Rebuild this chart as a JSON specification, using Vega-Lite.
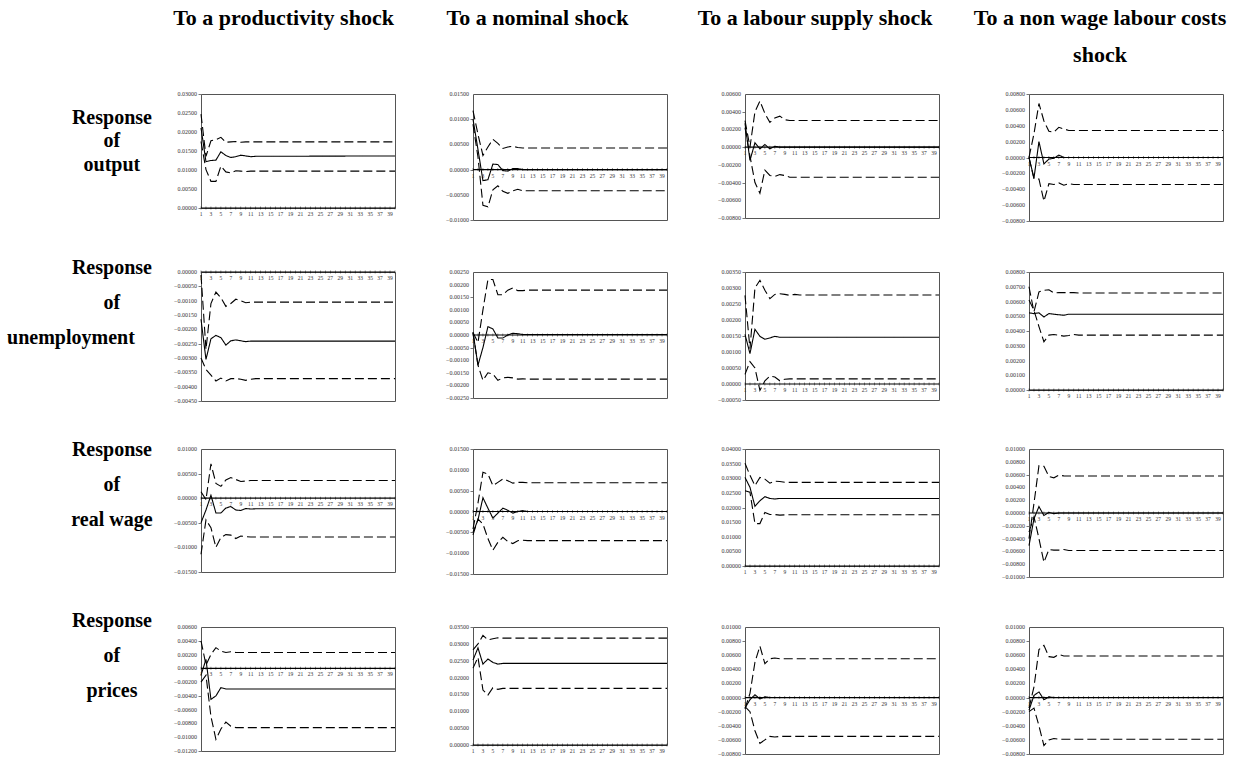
{
"$schema":"https://vega.github.io/schema/vega-lite/v6.json",
"padding":0,
"background":"white",
"config":{"view":{"stroke":null},"axis":{"tickSize":3,"tickColor":"#555","tickWidth":0.8,"domain":false,"grid":false,"labels":false}},
"datasets":{
"ticks":[{"t":1},{"t":2},{"t":3},{"t":4},{"t":5},{"t":6},{"t":7},{"t":8},{"t":9},{"t":10},{"t":11},{"t":12},{"t":13},{"t":14},{"t":15},{"t":16},{"t":17},{"t":18},{"t":19},{"t":20},{"t":21},{"t":22},{"t":23},{"t":24},{"t":25},{"t":26},{"t":27},{"t":28},{"t":29},{"t":30},{"t":31},{"t":32},{"t":33},{"t":34},{"t":35},{"t":36},{"t":37},{"t":38},{"t":39},{"t":40}],
"hdr":[{"c":1,"i":1,"text":"To a productivity shock"},{"c":2,"i":1,"text":"To a nominal shock"},{"c":3,"i":1,"text":"To a labour supply shock"},{"c":4,"i":1,"text":"To a non wage labour costs"},{"c":4,"i":2,"text":"shock"}],
"rowlab":[{"r":1,"i":1,"text":"Response"},{"r":1,"i":2,"text":"of"},{"r":1,"i":3,"text":"output"},{"r":2,"i":1,"text":"Response"},{"r":2,"i":2,"text":"of"},{"r":2,"i":3,"text":"unemployment"},{"r":3,"i":1,"text":"Response"},{"r":3,"i":2,"text":"of"},{"r":3,"i":3,"text":"real wage"},{"r":4,"i":1,"text":"Response"},{"r":4,"i":2,"text":"of"},{"r":4,"i":3,"text":"prices"}],
"irf":[
{"g":11,"t":1,"m":0.0211,"l":0.0175,"u":0.0247},{"g":11,"t":2,"m":0.0122,"l":0.0101,"u":0.0136},{"g":11,"t":3,"m":0.0125,"l":0.007,"u":0.0177},{"g":11,"t":4,"m":0.0126,"l":0.007,"u":0.018},{"g":11,"t":5,"m":0.0148,"l":0.011,"u":0.0186},{"g":11,"t":6,"m":0.0138,"l":0.0095,"u":0.0173},{"g":11,"t":7,"m":0.0133,"l":0.0092,"u":0.0174},{"g":11,"t":8,"m":0.0135,"l":0.0098,"u":0.0175},{"g":11,"t":9,"m":0.0139,"l":0.0097,"u":0.0173},{"g":11,"t":10,"m":0.0137,"l":0.0096,"u":0.0174},{"g":11,"t":11,"m":0.0135,"l":0.0097,"u":0.0174},{"g":11,"t":12,"m":0.0136,"l":0.0097,"u":0.0174},{"g":11,"t":40,"m":0.0137,"l":0.0097,"u":0.0174},
{"g":12,"t":1,"m":0.01,"l":0.009,"u":0.0117},{"g":12,"t":2,"m":0.004,"l":0.0025,"u":0.007},{"g":12,"t":3,"m":-0.0022,"l":-0.0071,"u":0.0028},{"g":12,"t":4,"m":-0.002,"l":-0.0074,"u":0.0045},{"g":12,"t":5,"m":0.0011,"l":-0.004,"u":0.006},{"g":12,"t":6,"m":0.001,"l":-0.0032,"u":0.0052},{"g":12,"t":7,"m":-0.0002,"l":-0.0043,"u":0.0042},{"g":12,"t":8,"m":-0.0003,"l":-0.0047,"u":0.0045},{"g":12,"t":9,"m":0.0002,"l":-0.0042,"u":0.0046},{"g":12,"t":10,"m":0.0002,"l":-0.0039,"u":0.0044},{"g":12,"t":11,"m":0,"l":-0.0042,"u":0.0043},{"g":12,"t":12,"m":0,"l":-0.0042,"u":0.0043},{"g":12,"t":40,"m":0,"l":-0.0042,"u":0.0043},
{"g":13,"t":1,"m":0.0027,"l":0.0022,"u":0.003},{"g":13,"t":2,"m":-0.0015,"l":-0.001,"u":0},{"g":13,"t":3,"m":0.0005,"l":-0.004,"u":0.004},{"g":13,"t":4,"m":-0.0002,"l":-0.0052,"u":0.0052},{"g":13,"t":5,"m":0.0003,"l":-0.0026,"u":0.0038},{"g":13,"t":6,"m":-0.0002,"l":-0.0032,"u":0.0028},{"g":13,"t":7,"m":0.0001,"l":-0.0033,"u":0.0033},{"g":13,"t":8,"m":0,"l":-0.0031,"u":0.0035},{"g":13,"t":9,"m":0,"l":-0.0032,"u":0.0031},{"g":13,"t":10,"m":0,"l":-0.0034,"u":0.003},{"g":13,"t":11,"m":0,"l":-0.0034,"u":0.003},{"g":13,"t":12,"m":0,"l":-0.0034,"u":0.003},{"g":13,"t":40,"m":0,"l":-0.0034,"u":0.003},
{"g":14,"t":1,"m":0,"l":0,"u":0},{"g":14,"t":2,"m":-0.0026,"l":-0.0027,"u":0.003},{"g":14,"t":3,"m":0.002,"l":-0.0027,"u":0.0068},{"g":14,"t":4,"m":-0.0008,"l":-0.0055,"u":0.0046},{"g":14,"t":5,"m":-0.0002,"l":-0.0033,"u":0.0033},{"g":14,"t":6,"m":-0.0001,"l":-0.0034,"u":0.0032},{"g":14,"t":7,"m":0.0003,"l":-0.0032,"u":0.0038},{"g":14,"t":8,"m":0,"l":-0.0035,"u":0.0036},{"g":14,"t":9,"m":0,"l":-0.0033,"u":0.0034},{"g":14,"t":10,"m":0,"l":-0.0034,"u":0.0034},{"g":14,"t":11,"m":0,"l":-0.0034,"u":0.0034},{"g":14,"t":12,"m":0,"l":-0.0034,"u":0.0034},{"g":14,"t":40,"m":0,"l":-0.0034,"u":0.0034},
{"g":21,"t":1,"m":-0.00165,"l":-0.003,"u":-0.0001},{"g":21,"t":2,"m":-0.00305,"l":-0.0034,"u":-0.0027},{"g":21,"t":3,"m":-0.00233,"l":-0.0036,"u":-0.0011},{"g":21,"t":4,"m":-0.00221,"l":-0.0038,"u":-0.0007},{"g":21,"t":5,"m":-0.00229,"l":-0.0037,"u":-0.0009},{"g":21,"t":6,"m":-0.00255,"l":-0.0038,"u":-0.0012},{"g":21,"t":7,"m":-0.0024,"l":-0.00372,"u":-0.0011},{"g":21,"t":8,"m":-0.00237,"l":-0.00372,"u":-0.00095},{"g":21,"t":9,"m":-0.0024,"l":-0.00374,"u":-0.001},{"g":21,"t":10,"m":-0.00243,"l":-0.00378,"u":-0.00107},{"g":21,"t":11,"m":-0.00241,"l":-0.00374,"u":-0.00105},{"g":21,"t":12,"m":-0.00241,"l":-0.00372,"u":-0.00105},{"g":21,"t":40,"m":-0.00241,"l":-0.00372,"u":-0.00105},
{"g":22,"t":1,"m":0.0001,"l":0.0001,"u":0.0001},{"g":22,"t":2,"m":-0.0012,"l":-0.0012,"u":-0.0003},{"g":22,"t":3,"m":-0.0005,"l":-0.0018,"u":0.001},{"g":22,"t":4,"m":0.00033,"l":-0.0015,"u":0.0022},{"g":22,"t":5,"m":0.00024,"l":-0.00155,"u":0.0022},{"g":22,"t":6,"m":-0.00012,"l":-0.0018,"u":0.0016},{"g":22,"t":7,"m":-0.00012,"l":-0.0017,"u":0.0016},{"g":22,"t":8,"m":0,"l":-0.00168,"u":0.00178},{"g":22,"t":9,"m":0.00007,"l":-0.0017,"u":0.00187},{"g":22,"t":10,"m":0.00005,"l":-0.00175,"u":0.00176},{"g":22,"t":11,"m":0.00002,"l":-0.00174,"u":0.00176},{"g":22,"t":12,"m":0.00002,"l":-0.00175,"u":0.00178},{"g":22,"t":40,"m":0.00002,"l":-0.00175,"u":0.00178},
{"g":23,"t":1,"m":0.00155,"l":0.0003,"u":0.00277},{"g":23,"t":2,"m":0.00095,"l":0.0007,"u":0.0011},{"g":23,"t":3,"m":0.00171,"l":0.0005,"u":0.003},{"g":23,"t":4,"m":0.00149,"l":-0.0002,"u":0.00324},{"g":23,"t":5,"m":0.0014,"l":0.0001,"u":0.00293},{"g":23,"t":6,"m":0.00144,"l":0.00025,"u":0.00267},{"g":23,"t":7,"m":0.00149,"l":0.00022,"u":0.0028},{"g":23,"t":8,"m":0.00146,"l":0.0001,"u":0.00282},{"g":23,"t":9,"m":0.00146,"l":0.00015,"u":0.0028},{"g":23,"t":10,"m":0.00146,"l":0.00016,"u":0.00277},{"g":23,"t":11,"m":0.00146,"l":0.00016,"u":0.0028},{"g":23,"t":12,"m":0.00146,"l":0.00016,"u":0.00278},{"g":23,"t":40,"m":0.00146,"l":0.00016,"u":0.00278},
{"g":24,"t":1,"m":0.00523,"l":0.0061,"u":0.007},{"g":24,"t":2,"m":0.00518,"l":0.0054,"u":0.0053},{"g":24,"t":3,"m":0.00523,"l":0.0043,"u":0.00665},{"g":24,"t":4,"m":0.00495,"l":0.00327,"u":0.00676},{"g":24,"t":5,"m":0.00518,"l":0.00372,"u":0.0068},{"g":24,"t":6,"m":0.00514,"l":0.00376,"u":0.00658},{"g":24,"t":7,"m":0.0051,"l":0.00372,"u":0.0066},{"g":24,"t":8,"m":0.00507,"l":0.00365,"u":0.0066},{"g":24,"t":9,"m":0.00514,"l":0.0037,"u":0.0066},{"g":24,"t":10,"m":0.00514,"l":0.00376,"u":0.0066},{"g":24,"t":11,"m":0.00514,"l":0.00372,"u":0.00658},{"g":24,"t":12,"m":0.00514,"l":0.00372,"u":0.00658},{"g":24,"t":40,"m":0.00514,"l":0.00372,"u":0.00658},
{"g":31,"t":1,"m":-0.005,"l":-0.0114,"u":0.0013},{"g":31,"t":2,"m":-0.0024,"l":-0.0044,"u":-0.0003},{"g":31,"t":3,"m":0.0006,"l":-0.006,"u":0.007},{"g":31,"t":4,"m":-0.003,"l":-0.01,"u":0.003},{"g":31,"t":5,"m":-0.003,"l":-0.008,"u":0.0024},{"g":31,"t":6,"m":-0.002,"l":-0.0074,"u":0.0037},{"g":31,"t":7,"m":-0.0017,"l":-0.0075,"u":0.0042},{"g":31,"t":8,"m":-0.0024,"l":-0.0082,"u":0.0038},{"g":31,"t":9,"m":-0.0025,"l":-0.0077,"u":0.0034},{"g":31,"t":10,"m":-0.0021,"l":-0.0078,"u":0.0035},{"g":31,"t":11,"m":-0.0022,"l":-0.0079,"u":0.0036},{"g":31,"t":12,"m":-0.00215,"l":-0.0079,"u":0.0036},{"g":31,"t":40,"m":-0.00215,"l":-0.0079,"u":0.0036},
{"g":32,"t":1,"m":-0.005,"l":-0.0056,"u":-0.0042},{"g":32,"t":2,"m":-0.002,"l":-0.0018,"u":0.002},{"g":32,"t":3,"m":0.0033,"l":-0.003,"u":0.0094},{"g":32,"t":4,"m":0.0008,"l":-0.0065,"u":0.009},{"g":32,"t":5,"m":-0.0016,"l":-0.0093,"u":0.0062},{"g":32,"t":6,"m":-0.0004,"l":-0.0074,"u":0.007},{"g":32,"t":7,"m":0.0008,"l":-0.0062,"u":0.0078},{"g":32,"t":8,"m":0.0003,"l":-0.0072,"u":0.0074},{"g":32,"t":9,"m":-0.0004,"l":-0.0077,"u":0.0068},{"g":32,"t":10,"m":0,"l":-0.007,"u":0.007},{"g":32,"t":11,"m":0.0002,"l":-0.0069,"u":0.007},{"g":32,"t":12,"m":0,"l":-0.007,"u":0.0069},{"g":32,"t":40,"m":0,"l":-0.007,"u":0.0069},
{"g":33,"t":1,"m":0.0303,"l":0.0257,"u":0.0351},{"g":33,"t":2,"m":0.0269,"l":0.0252,"u":0.031},{"g":33,"t":3,"m":0.0204,"l":0.0145,"u":0.0275},{"g":33,"t":4,"m":0.0223,"l":0.0145,"u":0.0303},{"g":33,"t":5,"m":0.0237,"l":0.0183,"u":0.0297},{"g":33,"t":6,"m":0.0231,"l":0.0176,"u":0.0283},{"g":33,"t":7,"m":0.0229,"l":0.0176,"u":0.029},{"g":33,"t":8,"m":0.0231,"l":0.0174,"u":0.0289},{"g":33,"t":9,"m":0.0231,"l":0.0175,"u":0.0286},{"g":33,"t":10,"m":0.0231,"l":0.0175,"u":0.0286},{"g":33,"t":11,"m":0.0231,"l":0.0175,"u":0.0286},{"g":33,"t":12,"m":0.0231,"l":0.0175,"u":0.0286},{"g":33,"t":40,"m":0.0231,"l":0.0175,"u":0.0286},
{"g":34,"t":1,"m":-0.0051,"l":-0.003,"u":-0.004},{"g":34,"t":2,"m":-0.0009,"l":-0.0006,"u":0.0015},{"g":34,"t":3,"m":0.001,"l":-0.004,"u":0.0074},{"g":34,"t":4,"m":-0.0004,"l":-0.0077,"u":0.0073},{"g":34,"t":5,"m":0.0001,"l":-0.0057,"u":0.0057},{"g":34,"t":6,"m":-0.0001,"l":-0.0058,"u":0.0055},{"g":34,"t":7,"m":0,"l":-0.0058,"u":0.0059},{"g":34,"t":8,"m":0,"l":-0.0057,"u":0.0058},{"g":34,"t":9,"m":0,"l":-0.00585,"u":0.00577},{"g":34,"t":10,"m":0,"l":-0.00585,"u":0.00577},{"g":34,"t":11,"m":0,"l":-0.00585,"u":0.00577},{"g":34,"t":12,"m":0,"l":-0.00585,"u":0.00577},{"g":34,"t":40,"m":0,"l":-0.00585,"u":0.00577},
{"g":41,"t":1,"m":-0.001,"l":-0.002,"u":0.004},{"g":41,"t":2,"m":0.0013,"l":-0.001,"u":0.0005},{"g":41,"t":3,"m":-0.0045,"l":-0.007,"u":0.002},{"g":41,"t":4,"m":-0.004,"l":-0.0103,"u":0.003},{"g":41,"t":5,"m":-0.0028,"l":-0.0088,"u":0.0025},{"g":41,"t":6,"m":-0.003,"l":-0.0078,"u":0.0023},{"g":41,"t":7,"m":-0.003,"l":-0.0084,"u":0.0024},{"g":41,"t":8,"m":-0.003,"l":-0.0086,"u":0.0023},{"g":41,"t":9,"m":-0.003,"l":-0.0086,"u":0.0023},{"g":41,"t":10,"m":-0.003,"l":-0.0086,"u":0.0023},{"g":41,"t":11,"m":-0.003,"l":-0.0086,"u":0.0023},{"g":41,"t":12,"m":-0.003,"l":-0.0086,"u":0.0023},{"g":41,"t":40,"m":-0.003,"l":-0.0086,"u":0.0023},
{"g":42,"t":1,"m":0.0252,"l":0.0228,"u":0.0282},{"g":42,"t":2,"m":0.0288,"l":0.026,"u":0.03},{"g":42,"t":3,"m":0.024,"l":0.0163,"u":0.0325},{"g":42,"t":4,"m":0.0255,"l":0.0148,"u":0.0312},{"g":42,"t":5,"m":0.0245,"l":0.017,"u":0.0315},{"g":42,"t":6,"m":0.024,"l":0.0165,"u":0.0318},{"g":42,"t":7,"m":0.0242,"l":0.0168,"u":0.0317},{"g":42,"t":8,"m":0.0242,"l":0.0168,"u":0.0317},{"g":42,"t":9,"m":0.0242,"l":0.0168,"u":0.0317},{"g":42,"t":10,"m":0.0242,"l":0.0168,"u":0.0317},{"g":42,"t":11,"m":0.0242,"l":0.0168,"u":0.0317},{"g":42,"t":12,"m":0.0242,"l":0.0168,"u":0.0317},{"g":42,"t":40,"m":0.0242,"l":0.0168,"u":0.0317},
{"g":43,"t":1,"m":-0.0015,"l":-0.0013,"u":-0.0016},{"g":43,"t":2,"m":-0.0003,"l":-0.002,"u":0.0006},{"g":43,"t":3,"m":0.0004,"l":-0.0047,"u":0.005},{"g":43,"t":4,"m":-0.0002,"l":-0.0065,"u":0.0073},{"g":43,"t":5,"m":0.0001,"l":-0.006,"u":0.0048},{"g":43,"t":6,"m":0,"l":-0.0055,"u":0.0055},{"g":43,"t":7,"m":0,"l":-0.0056,"u":0.0056},{"g":43,"t":8,"m":0,"l":-0.0055,"u":0.0055},{"g":43,"t":9,"m":0,"l":-0.0055,"u":0.0055},{"g":43,"t":10,"m":0,"l":-0.0055,"u":0.0055},{"g":43,"t":11,"m":0,"l":-0.0055,"u":0.0055},{"g":43,"t":12,"m":0,"l":-0.0055,"u":0.0055},{"g":43,"t":40,"m":0,"l":-0.0055,"u":0.0055},
{"g":44,"t":1,"m":-0.0018,"l":-0.002,"u":-0.0015},{"g":44,"t":2,"m":0.0003,"l":-0.0015,"u":0.0015},{"g":44,"t":3,"m":0.0008,"l":-0.004,"u":0.0068},{"g":44,"t":4,"m":-0.0003,"l":-0.0068,"u":0.0074},{"g":44,"t":5,"m":0.0001,"l":-0.006,"u":0.0058},{"g":44,"t":6,"m":0,"l":-0.0058,"u":0.0057},{"g":44,"t":7,"m":0,"l":-0.0059,"u":0.0061},{"g":44,"t":8,"m":0,"l":-0.0059,"u":0.0059},{"g":44,"t":9,"m":0,"l":-0.0059,"u":0.0059},{"g":44,"t":10,"m":0,"l":-0.0059,"u":0.0059},{"g":44,"t":11,"m":0,"l":-0.0059,"u":0.0059},{"g":44,"t":12,"m":0,"l":-0.0059,"u":0.0059},{"g":44,"t":40,"m":0,"l":-0.0059,"u":0.0059}
]},
"columns":5,
"spacing":{"row":0,"column":78},
"bounds":"flush",
"align":"each",
"concat":[
{"width":123,"height":94,"data":{"values":[]},"mark":"text"},
{"width":194,"height":94,"data":{"name":"hdr"},"transform":[{"filter":"datum.c==1"}],"mark":{"type":"text","font":"Liberation Serif","fontWeight":"bold","fontSize":22,"baseline":"middle","align":"center","color":"#000"},"encoding":{"x":{"datum":-0.149,"type":"quantitative","scale":{"domain":[-1,1],"nice":false},"axis":null},"y":{"field":"i","type":"quantitative","scale":{"domain":[0.5135,3.054],"reverse":true,"nice":false,"zero":false},"axis":null},"text":{"field":"text"}}},
{"width":194,"height":94,"data":{"name":"hdr"},"transform":[{"filter":"datum.c==2"}],"mark":{"type":"text","font":"Liberation Serif","fontWeight":"bold","fontSize":22,"baseline":"middle","align":"center","color":"#000"},"encoding":{"x":{"datum":-0.335,"type":"quantitative","scale":{"domain":[-1,1],"nice":false},"axis":null},"y":{"field":"i","type":"quantitative","scale":{"domain":[0.5135,3.054],"reverse":true,"nice":false,"zero":false},"axis":null},"text":{"field":"text"}}},
{"width":206,"height":94,"data":{"name":"hdr"},"transform":[{"filter":"datum.c==3"}],"mark":{"type":"text","font":"Liberation Serif","fontWeight":"bold","fontSize":22,"baseline":"middle","align":"center","color":"#000"},"encoding":{"x":{"datum":-0.32,"type":"quantitative","scale":{"domain":[-1,1],"nice":false},"axis":null},"y":{"field":"i","type":"quantitative","scale":{"domain":[0.5135,3.054],"reverse":true,"nice":false,"zero":false},"axis":null},"text":{"field":"text"}}},
{"width":194,"height":94,"data":{"name":"hdr"},"transform":[{"filter":"datum.c==4"}],"mark":{"type":"text","font":"Liberation Serif","fontWeight":"bold","fontSize":22,"baseline":"middle","align":"center","color":"#000"},"encoding":{"x":{"datum":-0.268,"type":"quantitative","scale":{"domain":[-1,1],"nice":false},"axis":null},"y":{"field":"i","type":"quantitative","scale":{"domain":[0.5135,3.054],"reverse":true,"nice":false,"zero":false},"axis":null},"text":{"field":"text"}}},

{"width":123,"height":178,"data":{"name":"rowlab"},"transform":[{"filter":"datum.r==1"}],"mark":{"type":"text","font":"Liberation Serif","fontWeight":"bold","fontSize":20,"baseline":"middle","align":"center","color":"#000"},"encoding":{"x":{"datum":0.91,"type":"quantitative","scale":{"domain":[0,1],"nice":false},"axis":null},"y":{"field":"i","type":"quantitative","scale":{"domain":[-0.021,7.553],"reverse":true,"nice":false,"zero":false},"axis":null},"text":{"field":"text"}}},
{"width":194,"height":114,"view":{"stroke":"#555"},"layer":[
{"data":{"name":"irf"},"transform":[{"filter":"datum.g==11"},{"fold":["u","l","m"],"as":["s","v"]}],"mark":{"type":"line","color":"#000","strokeWidth":1.1},"encoding":{"x":{"field":"t","type":"quantitative","axis":null,"scale":{"domain":[1,40],"nice":false,"zero":false}},"y":{"field":"v","type":"quantitative","title":null,"scale":{"domain":[0,0.03],"nice":false,"zero":false},"axis":{"labels":false,"values":[0,0.005,0.01,0.015,0.02,0.025,0.03]}},"strokeDash":{"field":"s","type":"nominal","legend":null,"scale":{"domain":["m","u","l"],"range":[[1,0],[9,4],[9,4]]}}}},
{"data":{"values":[{"v":0},{"v":0.005},{"v":0.01},{"v":0.015},{"v":0.02},{"v":0.025},{"v":0.03}]},"mark":{"type":"text","align":"right","baseline":"middle","dx":-4,"fontSize":6,"font":"Liberation Serif","color":"#333"},"encoding":{"x":{"datum":1,"type":"quantitative","axis":null},"y":{"field":"v","type":"quantitative","title":null},"text":{"field":"v","type":"quantitative","format":".5f"}}},
{"data":{"values":[{}]},"mark":{"type":"rule","color":"#000","strokeWidth":1.2},"encoding":{"y":{"datum":0,"type":"quantitative","title":null}}},
{"data":{"name":"ticks"},"mark":{"type":"tick","orient":"vertical","size":3,"thickness":0.6,"color":"#000"},"encoding":{"x":{"field":"t","type":"quantitative","axis":null},"y":{"datum":0,"type":"quantitative","title":null}}},
{"data":{"name":"ticks"},"transform":[{"filter":"datum.t%2==1"}],"mark":{"type":"text","baseline":"top","dy":4,"fontSize":5.5,"font":"Liberation Serif","color":"#333"},"encoding":{"x":{"field":"t","type":"quantitative","axis":null},"y":{"datum":0,"type":"quantitative","title":null},"text":{"field":"t","type":"quantitative"}}}]},
{"width":194,"height":126,"view":{"stroke":"#555"},"layer":[
{"data":{"name":"irf"},"transform":[{"filter":"datum.g==12"},{"fold":["u","l","m"],"as":["s","v"]}],"mark":{"type":"line","color":"#000","strokeWidth":1.1},"encoding":{"x":{"field":"t","type":"quantitative","axis":null,"scale":{"domain":[1,40],"nice":false,"zero":false}},"y":{"field":"v","type":"quantitative","title":null,"scale":{"domain":[-0.01,0.015],"nice":false,"zero":false},"axis":{"labels":false,"values":[-0.01,-0.005,0,0.005,0.01,0.015]}},"strokeDash":{"field":"s","type":"nominal","legend":null,"scale":{"domain":["m","u","l"],"range":[[1,0],[9,4],[9,4]]}}}},
{"data":{"values":[{"v":-0.01},{"v":-0.005},{"v":0},{"v":0.005},{"v":0.01},{"v":0.015}]},"mark":{"type":"text","align":"right","baseline":"middle","dx":-4,"fontSize":6,"font":"Liberation Serif","color":"#333"},"encoding":{"x":{"datum":1,"type":"quantitative","axis":null},"y":{"field":"v","type":"quantitative","title":null},"text":{"field":"v","type":"quantitative","format":".5f"}}},
{"data":{"values":[{}]},"mark":{"type":"rule","color":"#000","strokeWidth":1.2},"encoding":{"y":{"datum":0,"type":"quantitative","title":null}}},
{"data":{"name":"ticks"},"mark":{"type":"tick","orient":"vertical","size":3,"thickness":0.6,"color":"#000"},"encoding":{"x":{"field":"t","type":"quantitative","axis":null},"y":{"datum":0,"type":"quantitative","title":null}}},
{"data":{"name":"ticks"},"transform":[{"filter":"datum.t%2==1"}],"mark":{"type":"text","baseline":"top","dy":4,"fontSize":5.5,"font":"Liberation Serif","color":"#333"},"encoding":{"x":{"field":"t","type":"quantitative","axis":null},"y":{"datum":0,"type":"quantitative","title":null},"text":{"field":"t","type":"quantitative"}}}]},
{"width":194,"height":124,"view":{"stroke":"#555"},"layer":[
{"data":{"name":"irf"},"transform":[{"filter":"datum.g==13"},{"fold":["u","l","m"],"as":["s","v"]}],"mark":{"type":"line","color":"#000","strokeWidth":1.1},"encoding":{"x":{"field":"t","type":"quantitative","axis":null,"scale":{"domain":[1,40],"nice":false,"zero":false}},"y":{"field":"v","type":"quantitative","title":null,"scale":{"domain":[-0.008,0.006],"nice":false,"zero":false},"axis":{"labels":false,"values":[-0.008,-0.006,-0.004,-0.002,0,0.002,0.004,0.006]}},"strokeDash":{"field":"s","type":"nominal","legend":null,"scale":{"domain":["m","u","l"],"range":[[1,0],[9,4],[9,4]]}}}},
{"data":{"values":[{"v":-0.008},{"v":-0.006},{"v":-0.004},{"v":-0.002},{"v":0},{"v":0.002},{"v":0.004},{"v":0.006}]},"mark":{"type":"text","align":"right","baseline":"middle","dx":-4,"fontSize":6,"font":"Liberation Serif","color":"#333"},"encoding":{"x":{"datum":1,"type":"quantitative","axis":null},"y":{"field":"v","type":"quantitative","title":null},"text":{"field":"v","type":"quantitative","format":".5f"}}},
{"data":{"values":[{}]},"mark":{"type":"rule","color":"#000","strokeWidth":1.2},"encoding":{"y":{"datum":0,"type":"quantitative","title":null}}},
{"data":{"name":"ticks"},"mark":{"type":"tick","orient":"vertical","size":3,"thickness":0.6,"color":"#000"},"encoding":{"x":{"field":"t","type":"quantitative","axis":null},"y":{"datum":0,"type":"quantitative","title":null}}},
{"data":{"name":"ticks"},"transform":[{"filter":"datum.t%2==1"}],"mark":{"type":"text","baseline":"top","dy":4,"fontSize":5.5,"font":"Liberation Serif","color":"#333"},"encoding":{"x":{"field":"t","type":"quantitative","axis":null},"y":{"datum":0,"type":"quantitative","title":null},"text":{"field":"t","type":"quantitative"}}}]},
{"width":194,"height":127,"view":{"stroke":"#555"},"layer":[
{"data":{"name":"irf"},"transform":[{"filter":"datum.g==14"},{"fold":["u","l","m"],"as":["s","v"]}],"mark":{"type":"line","color":"#000","strokeWidth":1.1},"encoding":{"x":{"field":"t","type":"quantitative","axis":null,"scale":{"domain":[1,40],"nice":false,"zero":false}},"y":{"field":"v","type":"quantitative","title":null,"scale":{"domain":[-0.008,0.008],"nice":false,"zero":false},"axis":{"labels":false,"values":[-0.008,-0.006,-0.004,-0.002,0,0.002,0.004,0.006,0.008]}},"strokeDash":{"field":"s","type":"nominal","legend":null,"scale":{"domain":["m","u","l"],"range":[[1,0],[9,4],[9,4]]}}}},
{"data":{"values":[{"v":-0.008},{"v":-0.006},{"v":-0.004},{"v":-0.002},{"v":0},{"v":0.002},{"v":0.004},{"v":0.006},{"v":0.008}]},"mark":{"type":"text","align":"right","baseline":"middle","dx":-4,"fontSize":6,"font":"Liberation Serif","color":"#333"},"encoding":{"x":{"datum":1,"type":"quantitative","axis":null},"y":{"field":"v","type":"quantitative","title":null},"text":{"field":"v","type":"quantitative","format":".5f"}}},
{"data":{"values":[{}]},"mark":{"type":"rule","color":"#000","strokeWidth":1.2},"encoding":{"y":{"datum":0,"type":"quantitative","title":null}}},
{"data":{"name":"ticks"},"mark":{"type":"tick","orient":"vertical","size":3,"thickness":0.6,"color":"#000"},"encoding":{"x":{"field":"t","type":"quantitative","axis":null},"y":{"datum":0,"type":"quantitative","title":null}}},
{"data":{"name":"ticks"},"transform":[{"filter":"datum.t%2==1"}],"mark":{"type":"text","baseline":"top","dy":4,"fontSize":5.5,"font":"Liberation Serif","color":"#333"},"encoding":{"x":{"field":"t","type":"quantitative","axis":null},"y":{"datum":0,"type":"quantitative","title":null},"text":{"field":"t","type":"quantitative"}}}]},

{"width":123,"height":177,"data":{"name":"rowlab"},"layer":[
{"transform":[{"filter":"datum.r==2 && datum.i<3"}],"mark":{"type":"text","font":"Liberation Serif","fontWeight":"bold","fontSize":20,"baseline":"middle","align":"center","color":"#000"},"encoding":{"x":{"datum":0.91,"type":"quantitative","scale":{"domain":[0,1],"nice":false},"axis":null},"y":{"field":"i","type":"quantitative","scale":{"domain":[1.114,6.171],"reverse":true,"nice":false,"zero":false},"axis":null},"text":{"field":"text"}}},
{"transform":[{"filter":"datum.r==2 && datum.i==3"}],"mark":{"type":"text","font":"Liberation Serif","fontWeight":"bold","fontSize":20,"baseline":"middle","align":"center","color":"#000"},"encoding":{"x":{"datum":0.577,"type":"quantitative","axis":null},"y":{"field":"i","type":"quantitative","axis":null},"text":{"field":"text"}}}]},
{"width":194,"height":129,"view":{"stroke":"#555"},"layer":[
{"data":{"name":"irf"},"transform":[{"filter":"datum.g==21"},{"fold":["u","l","m"],"as":["s","v"]}],"mark":{"type":"line","color":"#000","strokeWidth":1.1},"encoding":{"x":{"field":"t","type":"quantitative","axis":null,"scale":{"domain":[1,40],"nice":false,"zero":false}},"y":{"field":"v","type":"quantitative","title":null,"scale":{"domain":[-0.0045,0],"nice":false,"zero":false},"axis":{"labels":false,"values":[-0.0045,-0.004,-0.0035,-0.003,-0.0025,-0.002,-0.0015,-0.001,-0.0005,0]}},"strokeDash":{"field":"s","type":"nominal","legend":null,"scale":{"domain":["m","u","l"],"range":[[1,0],[9,4],[9,4]]}}}},
{"data":{"values":[{"v":-0.0045},{"v":-0.004},{"v":-0.0035},{"v":-0.003},{"v":-0.0025},{"v":-0.002},{"v":-0.0015},{"v":-0.001},{"v":-0.0005},{"v":0}]},"mark":{"type":"text","align":"right","baseline":"middle","dx":-4,"fontSize":6,"font":"Liberation Serif","color":"#333"},"encoding":{"x":{"datum":1,"type":"quantitative","axis":null},"y":{"field":"v","type":"quantitative","title":null},"text":{"field":"v","type":"quantitative","format":".5f"}}},
{"data":{"values":[{}]},"mark":{"type":"rule","color":"#000","strokeWidth":1.2},"encoding":{"y":{"datum":0,"type":"quantitative","title":null}}},
{"data":{"name":"ticks"},"mark":{"type":"tick","orient":"vertical","size":3,"thickness":0.6,"color":"#000"},"encoding":{"x":{"field":"t","type":"quantitative","axis":null},"y":{"datum":0,"type":"quantitative","title":null}}},
{"data":{"name":"ticks"},"transform":[{"filter":"datum.t%2==1"}],"mark":{"type":"text","baseline":"top","dy":4,"fontSize":5.5,"font":"Liberation Serif","color":"#333"},"encoding":{"x":{"field":"t","type":"quantitative","axis":null},"y":{"datum":0,"type":"quantitative","title":null},"text":{"field":"t","type":"quantitative"}}}]},
{"width":194,"height":126,"view":{"stroke":"#555"},"layer":[
{"data":{"name":"irf"},"transform":[{"filter":"datum.g==22"},{"fold":["u","l","m"],"as":["s","v"]}],"mark":{"type":"line","color":"#000","strokeWidth":1.1},"encoding":{"x":{"field":"t","type":"quantitative","axis":null,"scale":{"domain":[1,40],"nice":false,"zero":false}},"y":{"field":"v","type":"quantitative","title":null,"scale":{"domain":[-0.0025,0.0025],"nice":false,"zero":false},"axis":{"labels":false,"values":[-0.0025,-0.002,-0.0015,-0.001,-0.0005,0,0.0005,0.001,0.0015,0.002,0.0025]}},"strokeDash":{"field":"s","type":"nominal","legend":null,"scale":{"domain":["m","u","l"],"range":[[1,0],[9,4],[9,4]]}}}},
{"data":{"values":[{"v":-0.0025},{"v":-0.002},{"v":-0.0015},{"v":-0.001},{"v":-0.0005},{"v":0},{"v":0.0005},{"v":0.001},{"v":0.0015},{"v":0.002},{"v":0.0025}]},"mark":{"type":"text","align":"right","baseline":"middle","dx":-4,"fontSize":6,"font":"Liberation Serif","color":"#333"},"encoding":{"x":{"datum":1,"type":"quantitative","axis":null},"y":{"field":"v","type":"quantitative","title":null},"text":{"field":"v","type":"quantitative","format":".5f"}}},
{"data":{"values":[{}]},"mark":{"type":"rule","color":"#000","strokeWidth":1.2},"encoding":{"y":{"datum":0,"type":"quantitative","title":null}}},
{"data":{"name":"ticks"},"mark":{"type":"tick","orient":"vertical","size":3,"thickness":0.6,"color":"#000"},"encoding":{"x":{"field":"t","type":"quantitative","axis":null},"y":{"datum":0,"type":"quantitative","title":null}}},
{"data":{"name":"ticks"},"transform":[{"filter":"datum.t%2==1"}],"mark":{"type":"text","baseline":"top","dy":4,"fontSize":5.5,"font":"Liberation Serif","color":"#333"},"encoding":{"x":{"field":"t","type":"quantitative","axis":null},"y":{"datum":0,"type":"quantitative","title":null},"text":{"field":"t","type":"quantitative"}}}]},
{"width":194,"height":128,"view":{"stroke":"#555"},"layer":[
{"data":{"name":"irf"},"transform":[{"filter":"datum.g==23"},{"fold":["u","l","m"],"as":["s","v"]}],"mark":{"type":"line","color":"#000","strokeWidth":1.1},"encoding":{"x":{"field":"t","type":"quantitative","axis":null,"scale":{"domain":[1,40],"nice":false,"zero":false}},"y":{"field":"v","type":"quantitative","title":null,"scale":{"domain":[-0.0005,0.0035],"nice":false,"zero":false},"axis":{"labels":false,"values":[-0.0005,0,0.0005,0.001,0.0015,0.002,0.0025,0.003,0.0035]}},"strokeDash":{"field":"s","type":"nominal","legend":null,"scale":{"domain":["m","u","l"],"range":[[1,0],[9,4],[9,4]]}}}},
{"data":{"values":[{"v":-0.0005},{"v":0},{"v":0.0005},{"v":0.001},{"v":0.0015},{"v":0.002},{"v":0.0025},{"v":0.003},{"v":0.0035}]},"mark":{"type":"text","align":"right","baseline":"middle","dx":-4,"fontSize":6,"font":"Liberation Serif","color":"#333"},"encoding":{"x":{"datum":1,"type":"quantitative","axis":null},"y":{"field":"v","type":"quantitative","title":null},"text":{"field":"v","type":"quantitative","format":".5f"}}},
{"data":{"values":[{}]},"mark":{"type":"rule","color":"#000","strokeWidth":1.2},"encoding":{"y":{"datum":0,"type":"quantitative","title":null}}},
{"data":{"name":"ticks"},"mark":{"type":"tick","orient":"vertical","size":3,"thickness":0.6,"color":"#000"},"encoding":{"x":{"field":"t","type":"quantitative","axis":null},"y":{"datum":0,"type":"quantitative","title":null}}},
{"data":{"name":"ticks"},"transform":[{"filter":"datum.t%2==1"}],"mark":{"type":"text","baseline":"top","dy":4,"fontSize":5.5,"font":"Liberation Serif","color":"#333"},"encoding":{"x":{"field":"t","type":"quantitative","axis":null},"y":{"datum":0,"type":"quantitative","title":null},"text":{"field":"t","type":"quantitative"}}}]},
{"width":194,"height":118,"view":{"stroke":"#555"},"layer":[
{"data":{"name":"irf"},"transform":[{"filter":"datum.g==24"},{"fold":["u","l","m"],"as":["s","v"]}],"mark":{"type":"line","color":"#000","strokeWidth":1.1},"encoding":{"x":{"field":"t","type":"quantitative","axis":null,"scale":{"domain":[1,40],"nice":false,"zero":false}},"y":{"field":"v","type":"quantitative","title":null,"scale":{"domain":[0,0.008],"nice":false,"zero":false},"axis":{"labels":false,"values":[0,0.001,0.002,0.003,0.004,0.005,0.006,0.007,0.008]}},"strokeDash":{"field":"s","type":"nominal","legend":null,"scale":{"domain":["m","u","l"],"range":[[1,0],[9,4],[9,4]]}}}},
{"data":{"values":[{"v":0},{"v":0.001},{"v":0.002},{"v":0.003},{"v":0.004},{"v":0.005},{"v":0.006},{"v":0.007},{"v":0.008}]},"mark":{"type":"text","align":"right","baseline":"middle","dx":-4,"fontSize":6,"font":"Liberation Serif","color":"#333"},"encoding":{"x":{"datum":1,"type":"quantitative","axis":null},"y":{"field":"v","type":"quantitative","title":null},"text":{"field":"v","type":"quantitative","format":".5f"}}},
{"data":{"values":[{}]},"mark":{"type":"rule","color":"#000","strokeWidth":1.2},"encoding":{"y":{"datum":0,"type":"quantitative","title":null}}},
{"data":{"name":"ticks"},"mark":{"type":"tick","orient":"vertical","size":3,"thickness":0.6,"color":"#000"},"encoding":{"x":{"field":"t","type":"quantitative","axis":null},"y":{"datum":0,"type":"quantitative","title":null}}},
{"data":{"name":"ticks"},"transform":[{"filter":"datum.t%2==1"}],"mark":{"type":"text","baseline":"top","dy":4,"fontSize":5.5,"font":"Liberation Serif","color":"#333"},"encoding":{"x":{"field":"t","type":"quantitative","axis":null},"y":{"datum":0,"type":"quantitative","title":null},"text":{"field":"t","type":"quantitative"}}}]},

{"width":123,"height":178,"data":{"name":"rowlab"},"transform":[{"filter":"datum.r==3"}],"mark":{"type":"text","font":"Liberation Serif","fontWeight":"bold","fontSize":20,"baseline":"middle","align":"center","color":"#000"},"encoding":{"x":{"datum":0.91,"type":"quantitative","scale":{"domain":[0,1],"nice":false},"axis":null},"y":{"field":"i","type":"quantitative","scale":{"domain":[0.971,6.057],"reverse":true,"nice":false,"zero":false},"axis":null},"text":{"field":"text"}}},
{"width":194,"height":123,"view":{"stroke":"#555"},"layer":[
{"data":{"name":"irf"},"transform":[{"filter":"datum.g==31"},{"fold":["u","l","m"],"as":["s","v"]}],"mark":{"type":"line","color":"#000","strokeWidth":1.1},"encoding":{"x":{"field":"t","type":"quantitative","axis":null,"scale":{"domain":[1,40],"nice":false,"zero":false}},"y":{"field":"v","type":"quantitative","title":null,"scale":{"domain":[-0.015,0.01],"nice":false,"zero":false},"axis":{"labels":false,"values":[-0.015,-0.01,-0.005,0,0.005,0.01]}},"strokeDash":{"field":"s","type":"nominal","legend":null,"scale":{"domain":["m","u","l"],"range":[[1,0],[9,4],[9,4]]}}}},
{"data":{"values":[{"v":-0.015},{"v":-0.01},{"v":-0.005},{"v":0},{"v":0.005},{"v":0.01}]},"mark":{"type":"text","align":"right","baseline":"middle","dx":-4,"fontSize":6,"font":"Liberation Serif","color":"#333"},"encoding":{"x":{"datum":1,"type":"quantitative","axis":null},"y":{"field":"v","type":"quantitative","title":null},"text":{"field":"v","type":"quantitative","format":".5f"}}},
{"data":{"values":[{}]},"mark":{"type":"rule","color":"#000","strokeWidth":1.2},"encoding":{"y":{"datum":0,"type":"quantitative","title":null}}},
{"data":{"name":"ticks"},"mark":{"type":"tick","orient":"vertical","size":3,"thickness":0.6,"color":"#000"},"encoding":{"x":{"field":"t","type":"quantitative","axis":null},"y":{"datum":0,"type":"quantitative","title":null}}},
{"data":{"name":"ticks"},"transform":[{"filter":"datum.t%2==1"}],"mark":{"type":"text","baseline":"top","dy":4,"fontSize":5.5,"font":"Liberation Serif","color":"#333"},"encoding":{"x":{"field":"t","type":"quantitative","axis":null},"y":{"datum":0,"type":"quantitative","title":null},"text":{"field":"t","type":"quantitative"}}}]},
{"width":194,"height":125,"view":{"stroke":"#555"},"layer":[
{"data":{"name":"irf"},"transform":[{"filter":"datum.g==32"},{"fold":["u","l","m"],"as":["s","v"]}],"mark":{"type":"line","color":"#000","strokeWidth":1.1},"encoding":{"x":{"field":"t","type":"quantitative","axis":null,"scale":{"domain":[1,40],"nice":false,"zero":false}},"y":{"field":"v","type":"quantitative","title":null,"scale":{"domain":[-0.015,0.015],"nice":false,"zero":false},"axis":{"labels":false,"values":[-0.015,-0.01,-0.005,0,0.005,0.01,0.015]}},"strokeDash":{"field":"s","type":"nominal","legend":null,"scale":{"domain":["m","u","l"],"range":[[1,0],[9,4],[9,4]]}}}},
{"data":{"values":[{"v":-0.015},{"v":-0.01},{"v":-0.005},{"v":0},{"v":0.005},{"v":0.01},{"v":0.015}]},"mark":{"type":"text","align":"right","baseline":"middle","dx":-4,"fontSize":6,"font":"Liberation Serif","color":"#333"},"encoding":{"x":{"datum":1,"type":"quantitative","axis":null},"y":{"field":"v","type":"quantitative","title":null},"text":{"field":"v","type":"quantitative","format":".5f"}}},
{"data":{"values":[{}]},"mark":{"type":"rule","color":"#000","strokeWidth":1.2},"encoding":{"y":{"datum":0,"type":"quantitative","title":null}}},
{"data":{"name":"ticks"},"mark":{"type":"tick","orient":"vertical","size":3,"thickness":0.6,"color":"#000"},"encoding":{"x":{"field":"t","type":"quantitative","axis":null},"y":{"datum":0,"type":"quantitative","title":null}}},
{"data":{"name":"ticks"},"transform":[{"filter":"datum.t%2==1"}],"mark":{"type":"text","baseline":"top","dy":4,"fontSize":5.5,"font":"Liberation Serif","color":"#333"},"encoding":{"x":{"field":"t","type":"quantitative","axis":null},"y":{"datum":0,"type":"quantitative","title":null},"text":{"field":"t","type":"quantitative"}}}]},
{"width":194,"height":117,"view":{"stroke":"#555"},"layer":[
{"data":{"name":"irf"},"transform":[{"filter":"datum.g==33"},{"fold":["u","l","m"],"as":["s","v"]}],"mark":{"type":"line","color":"#000","strokeWidth":1.1},"encoding":{"x":{"field":"t","type":"quantitative","axis":null,"scale":{"domain":[1,40],"nice":false,"zero":false}},"y":{"field":"v","type":"quantitative","title":null,"scale":{"domain":[0,0.04],"nice":false,"zero":false},"axis":{"labels":false,"values":[0,0.005,0.01,0.015,0.02,0.025,0.03,0.035,0.04]}},"strokeDash":{"field":"s","type":"nominal","legend":null,"scale":{"domain":["m","u","l"],"range":[[1,0],[9,4],[9,4]]}}}},
{"data":{"values":[{"v":0},{"v":0.005},{"v":0.01},{"v":0.015},{"v":0.02},{"v":0.025},{"v":0.03},{"v":0.035},{"v":0.04}]},"mark":{"type":"text","align":"right","baseline":"middle","dx":-4,"fontSize":6,"font":"Liberation Serif","color":"#333"},"encoding":{"x":{"datum":1,"type":"quantitative","axis":null},"y":{"field":"v","type":"quantitative","title":null},"text":{"field":"v","type":"quantitative","format":".5f"}}},
{"data":{"values":[{}]},"mark":{"type":"rule","color":"#000","strokeWidth":1.2},"encoding":{"y":{"datum":0,"type":"quantitative","title":null}}},
{"data":{"name":"ticks"},"mark":{"type":"tick","orient":"vertical","size":3,"thickness":0.6,"color":"#000"},"encoding":{"x":{"field":"t","type":"quantitative","axis":null},"y":{"datum":0,"type":"quantitative","title":null}}},
{"data":{"name":"ticks"},"transform":[{"filter":"datum.t%2==1"}],"mark":{"type":"text","baseline":"top","dy":4,"fontSize":5.5,"font":"Liberation Serif","color":"#333"},"encoding":{"x":{"field":"t","type":"quantitative","axis":null},"y":{"datum":0,"type":"quantitative","title":null},"text":{"field":"t","type":"quantitative"}}}]},
{"width":194,"height":128,"view":{"stroke":"#555"},"layer":[
{"data":{"name":"irf"},"transform":[{"filter":"datum.g==34"},{"fold":["u","l","m"],"as":["s","v"]}],"mark":{"type":"line","color":"#000","strokeWidth":1.1},"encoding":{"x":{"field":"t","type":"quantitative","axis":null,"scale":{"domain":[1,40],"nice":false,"zero":false}},"y":{"field":"v","type":"quantitative","title":null,"scale":{"domain":[-0.01,0.01],"nice":false,"zero":false},"axis":{"labels":false,"values":[-0.01,-0.008,-0.006,-0.004,-0.002,0,0.002,0.004,0.006,0.008,0.01]}},"strokeDash":{"field":"s","type":"nominal","legend":null,"scale":{"domain":["m","u","l"],"range":[[1,0],[9,4],[9,4]]}}}},
{"data":{"values":[{"v":-0.01},{"v":-0.008},{"v":-0.006},{"v":-0.004},{"v":-0.002},{"v":0},{"v":0.002},{"v":0.004},{"v":0.006},{"v":0.008},{"v":0.01}]},"mark":{"type":"text","align":"right","baseline":"middle","dx":-4,"fontSize":6,"font":"Liberation Serif","color":"#333"},"encoding":{"x":{"datum":1,"type":"quantitative","axis":null},"y":{"field":"v","type":"quantitative","title":null},"text":{"field":"v","type":"quantitative","format":".5f"}}},
{"data":{"values":[{}]},"mark":{"type":"rule","color":"#000","strokeWidth":1.2},"encoding":{"y":{"datum":0,"type":"quantitative","title":null}}},
{"data":{"name":"ticks"},"mark":{"type":"tick","orient":"vertical","size":3,"thickness":0.6,"color":"#000"},"encoding":{"x":{"field":"t","type":"quantitative","axis":null},"y":{"datum":0,"type":"quantitative","title":null}}},
{"data":{"name":"ticks"},"transform":[{"filter":"datum.t%2==1"}],"mark":{"type":"text","baseline":"top","dy":4,"fontSize":5.5,"font":"Liberation Serif","color":"#333"},"encoding":{"x":{"field":"t","type":"quantitative","axis":null},"y":{"datum":0,"type":"quantitative","title":null},"text":{"field":"t","type":"quantitative"}}}]},

{"width":123,"height":129,"data":{"name":"rowlab"},"transform":[{"filter":"datum.r==4"}],"mark":{"type":"text","font":"Liberation Serif","fontWeight":"bold","fontSize":20,"baseline":"middle","align":"center","color":"#000"},"encoding":{"x":{"datum":0.91,"type":"quantitative","scale":{"domain":[0,1],"nice":false},"axis":null},"y":{"field":"i","type":"quantitative","scale":{"domain":[1.171,4.857],"reverse":true,"nice":false,"zero":false},"axis":null},"text":{"field":"text"}}},
{"width":194,"height":124,"view":{"stroke":"#555"},"layer":[
{"data":{"name":"irf"},"transform":[{"filter":"datum.g==41"},{"fold":["u","l","m"],"as":["s","v"]}],"mark":{"type":"line","color":"#000","strokeWidth":1.1},"encoding":{"x":{"field":"t","type":"quantitative","axis":null,"scale":{"domain":[1,40],"nice":false,"zero":false}},"y":{"field":"v","type":"quantitative","title":null,"scale":{"domain":[-0.012,0.006],"nice":false,"zero":false},"axis":{"labels":false,"values":[-0.012,-0.01,-0.008,-0.006,-0.004,-0.002,0,0.002,0.004,0.006]}},"strokeDash":{"field":"s","type":"nominal","legend":null,"scale":{"domain":["m","u","l"],"range":[[1,0],[9,4],[9,4]]}}}},
{"data":{"values":[{"v":-0.012},{"v":-0.01},{"v":-0.008},{"v":-0.006},{"v":-0.004},{"v":-0.002},{"v":0},{"v":0.002},{"v":0.004},{"v":0.006}]},"mark":{"type":"text","align":"right","baseline":"middle","dx":-4,"fontSize":6,"font":"Liberation Serif","color":"#333"},"encoding":{"x":{"datum":1,"type":"quantitative","axis":null},"y":{"field":"v","type":"quantitative","title":null},"text":{"field":"v","type":"quantitative","format":".5f"}}},
{"data":{"values":[{}]},"mark":{"type":"rule","color":"#000","strokeWidth":1.2},"encoding":{"y":{"datum":0,"type":"quantitative","title":null}}},
{"data":{"name":"ticks"},"mark":{"type":"tick","orient":"vertical","size":3,"thickness":0.6,"color":"#000"},"encoding":{"x":{"field":"t","type":"quantitative","axis":null},"y":{"datum":0,"type":"quantitative","title":null}}},
{"data":{"name":"ticks"},"transform":[{"filter":"datum.t%2==1"}],"mark":{"type":"text","baseline":"top","dy":4,"fontSize":5.5,"font":"Liberation Serif","color":"#333"},"encoding":{"x":{"field":"t","type":"quantitative","axis":null},"y":{"datum":0,"type":"quantitative","title":null},"text":{"field":"t","type":"quantitative"}}}]},
{"width":194,"height":118,"view":{"stroke":"#555"},"layer":[
{"data":{"name":"irf"},"transform":[{"filter":"datum.g==42"},{"fold":["u","l","m"],"as":["s","v"]}],"mark":{"type":"line","color":"#000","strokeWidth":1.1},"encoding":{"x":{"field":"t","type":"quantitative","axis":null,"scale":{"domain":[1,40],"nice":false,"zero":false}},"y":{"field":"v","type":"quantitative","title":null,"scale":{"domain":[0,0.035],"nice":false,"zero":false},"axis":{"labels":false,"values":[0,0.005,0.01,0.015,0.02,0.025,0.03,0.035]}},"strokeDash":{"field":"s","type":"nominal","legend":null,"scale":{"domain":["m","u","l"],"range":[[1,0],[9,4],[9,4]]}}}},
{"data":{"values":[{"v":0},{"v":0.005},{"v":0.01},{"v":0.015},{"v":0.02},{"v":0.025},{"v":0.03},{"v":0.035}]},"mark":{"type":"text","align":"right","baseline":"middle","dx":-4,"fontSize":6,"font":"Liberation Serif","color":"#333"},"encoding":{"x":{"datum":1,"type":"quantitative","axis":null},"y":{"field":"v","type":"quantitative","title":null},"text":{"field":"v","type":"quantitative","format":".5f"}}},
{"data":{"values":[{}]},"mark":{"type":"rule","color":"#000","strokeWidth":1.2},"encoding":{"y":{"datum":0,"type":"quantitative","title":null}}},
{"data":{"name":"ticks"},"mark":{"type":"tick","orient":"vertical","size":3,"thickness":0.6,"color":"#000"},"encoding":{"x":{"field":"t","type":"quantitative","axis":null},"y":{"datum":0,"type":"quantitative","title":null}}},
{"data":{"name":"ticks"},"transform":[{"filter":"datum.t%2==1"}],"mark":{"type":"text","baseline":"top","dy":4,"fontSize":5.5,"font":"Liberation Serif","color":"#333"},"encoding":{"x":{"field":"t","type":"quantitative","axis":null},"y":{"datum":0,"type":"quantitative","title":null},"text":{"field":"t","type":"quantitative"}}}]},
{"width":194,"height":127,"view":{"stroke":"#555"},"layer":[
{"data":{"name":"irf"},"transform":[{"filter":"datum.g==43"},{"fold":["u","l","m"],"as":["s","v"]}],"mark":{"type":"line","color":"#000","strokeWidth":1.1},"encoding":{"x":{"field":"t","type":"quantitative","axis":null,"scale":{"domain":[1,40],"nice":false,"zero":false}},"y":{"field":"v","type":"quantitative","title":null,"scale":{"domain":[-0.008,0.01],"nice":false,"zero":false},"axis":{"labels":false,"values":[-0.008,-0.006,-0.004,-0.002,0,0.002,0.004,0.006,0.008,0.01]}},"strokeDash":{"field":"s","type":"nominal","legend":null,"scale":{"domain":["m","u","l"],"range":[[1,0],[9,4],[9,4]]}}}},
{"data":{"values":[{"v":-0.008},{"v":-0.006},{"v":-0.004},{"v":-0.002},{"v":0},{"v":0.002},{"v":0.004},{"v":0.006},{"v":0.008},{"v":0.01}]},"mark":{"type":"text","align":"right","baseline":"middle","dx":-4,"fontSize":6,"font":"Liberation Serif","color":"#333"},"encoding":{"x":{"datum":1,"type":"quantitative","axis":null},"y":{"field":"v","type":"quantitative","title":null},"text":{"field":"v","type":"quantitative","format":".5f"}}},
{"data":{"values":[{}]},"mark":{"type":"rule","color":"#000","strokeWidth":1.2},"encoding":{"y":{"datum":0,"type":"quantitative","title":null}}},
{"data":{"name":"ticks"},"mark":{"type":"tick","orient":"vertical","size":3,"thickness":0.6,"color":"#000"},"encoding":{"x":{"field":"t","type":"quantitative","axis":null},"y":{"datum":0,"type":"quantitative","title":null}}},
{"data":{"name":"ticks"},"transform":[{"filter":"datum.t%2==1"}],"mark":{"type":"text","baseline":"top","dy":4,"fontSize":5.5,"font":"Liberation Serif","color":"#333"},"encoding":{"x":{"field":"t","type":"quantitative","axis":null},"y":{"datum":0,"type":"quantitative","title":null},"text":{"field":"t","type":"quantitative"}}}]},
{"width":194,"height":127,"view":{"stroke":"#555"},"layer":[
{"data":{"name":"irf"},"transform":[{"filter":"datum.g==44"},{"fold":["u","l","m"],"as":["s","v"]}],"mark":{"type":"line","color":"#000","strokeWidth":1.1},"encoding":{"x":{"field":"t","type":"quantitative","axis":null,"scale":{"domain":[1,40],"nice":false,"zero":false}},"y":{"field":"v","type":"quantitative","title":null,"scale":{"domain":[-0.008,0.01],"nice":false,"zero":false},"axis":{"labels":false,"values":[-0.008,-0.006,-0.004,-0.002,0,0.002,0.004,0.006,0.008,0.01]}},"strokeDash":{"field":"s","type":"nominal","legend":null,"scale":{"domain":["m","u","l"],"range":[[1,0],[9,4],[9,4]]}}}},
{"data":{"values":[{"v":-0.008},{"v":-0.006},{"v":-0.004},{"v":-0.002},{"v":0},{"v":0.002},{"v":0.004},{"v":0.006},{"v":0.008},{"v":0.01}]},"mark":{"type":"text","align":"right","baseline":"middle","dx":-4,"fontSize":6,"font":"Liberation Serif","color":"#333"},"encoding":{"x":{"datum":1,"type":"quantitative","axis":null},"y":{"field":"v","type":"quantitative","title":null},"text":{"field":"v","type":"quantitative","format":".5f"}}},
{"data":{"values":[{}]},"mark":{"type":"rule","color":"#000","strokeWidth":1.2},"encoding":{"y":{"datum":0,"type":"quantitative","title":null}}},
{"data":{"name":"ticks"},"mark":{"type":"tick","orient":"vertical","size":3,"thickness":0.6,"color":"#000"},"encoding":{"x":{"field":"t","type":"quantitative","axis":null},"y":{"datum":0,"type":"quantitative","title":null}}},
{"data":{"name":"ticks"},"transform":[{"filter":"datum.t%2==1"}],"mark":{"type":"text","baseline":"top","dy":4,"fontSize":5.5,"font":"Liberation Serif","color":"#333"},"encoding":{"x":{"field":"t","type":"quantitative","axis":null},"y":{"datum":0,"type":"quantitative","title":null},"text":{"field":"t","type":"quantitative"}}}]}
]
}
